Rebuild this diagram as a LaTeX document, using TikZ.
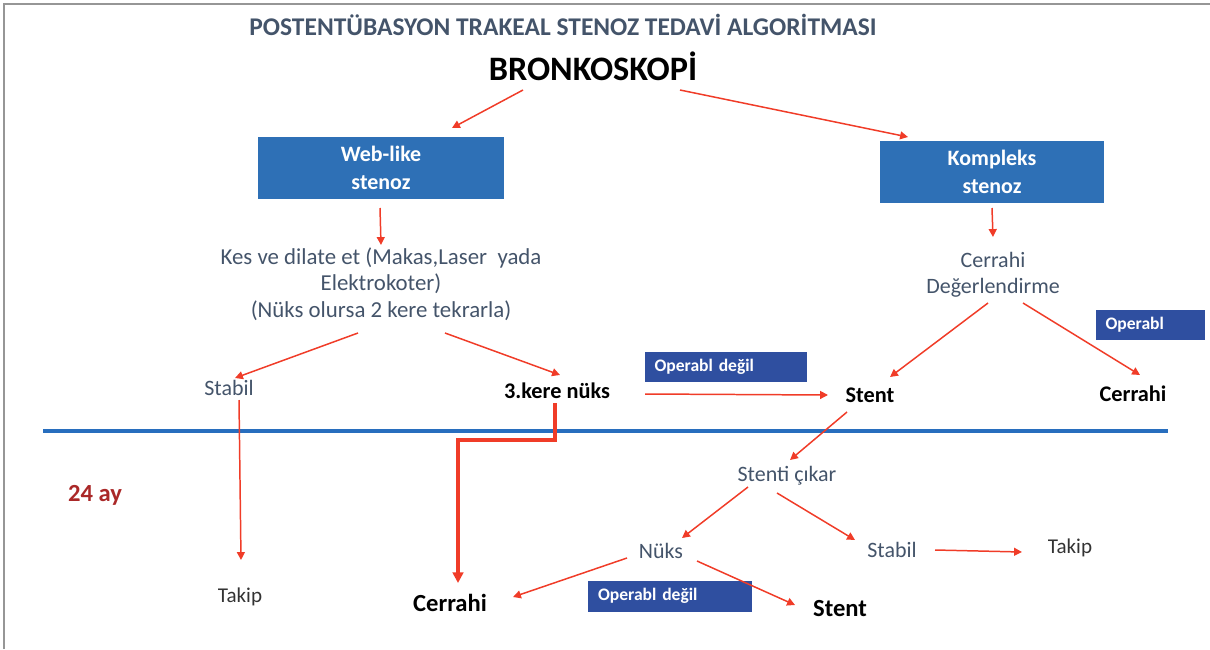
\documentclass[tikz,border=0pt]{standalone}
\usepackage{fontspec}
\setmainfont{Carlito}
\usetikzlibrary{arrows.meta}

\definecolor{boxblue}{RGB}{46,112,182}
\definecolor{tagblue}{RGB}{47,79,160}
\definecolor{slate}{RGB}{68,84,106}
\definecolor{arrred}{RGB}{240,60,40}
\definecolor{darkred}{RGB}{170,40,40}
\definecolor{framegray}{RGB}{150,150,150}
\definecolor{lineblue}{RGB}{40,110,190}

\tikzstyle{heading} = [
    inner sep=0pt,
    text=slate,
    font=\fontsize{14.5}{17}\selectfont\bfseries
]
\tikzstyle{bigheading} = [
    inner sep=0pt,
    text=black,
    font=\fontsize{19.5}{22}\selectfont\bfseries
]
\tikzstyle{bluebox} = [
    rectangle,
    fill=boxblue,
    text=white,
    align=center,
    font=\fontsize{12.5}{16}\selectfont\bfseries
]
\tikzstyle{tag} = [
    rectangle,
    fill=tagblue,
    text=white,
    inner xsep=0.2cm,
    align=left,
    font=\fontsize{10}{12}\selectfont\bfseries
]
\tikzstyle{graytxt} = [
    inner sep=0pt,
    text=slate,
    align=center,
    font=\fontsize{12.5}{15}\selectfont
]
\tikzstyle{boldtxt} = [
    inner sep=0pt,
    text=black,
    font=\fontsize{12.7}{15}\selectfont\bfseries
]
\tikzstyle{bigbold} = [
    inner sep=0pt,
    text=black,
    font=\fontsize{14}{16}\selectfont\bfseries
]
\tikzstyle{plaintxt} = [
    inner sep=0pt,
    text=black!80,
    font=\fontsize{12}{15}\selectfont
]
\tikzstyle{arrow} = [arrred, line width=0.85pt, -{Triangle[length=4.5pt, width=4.5pt]}]
\tikzstyle{thickarrow} = [arrred, line width=2.2pt, -{Triangle[length=6pt, width=6pt]}]

\begin{document}
\begin{tikzpicture}[x=0.02cm, y=-0.02cm]
\useasboundingbox (0,0) rectangle (1210,649);

% Frame and time divider
\draw [framegray, line width=1.7pt] (4,649) -- (4,4) -- (1210,4);
\draw [lineblue, line width=2.2pt] (43,431) -- (1168,431);

% Nodes
\node (title) [heading] at (563,25) {POSTENTÜBASYON TRAKEAL STENOZ TEDAVİ ALGORİTMASI};
\node (bronk) [bigheading] at (593,66) {BRONKOSKOPİ};
\node (web) [bluebox, minimum width=4.94cm, minimum height=1.26cm] at (381,168) {Web-like\\stenoz};
\node (komp) [bluebox, minimum width=4.5cm, minimum height=1.24cm] at (992,172) {Kompleks\\stenoz};
\node (kes) [graytxt, font=\fontsize{13}{15.2}\selectfont] at (381,284) {Kes ve dilate et (Makas,Laser\ \ yada\\Elektrokoter)\\(Nüks olursa 2 kere tekrarla)};
\node (cerrD) [graytxt] at (993,275) {Cerrahi\\Değerlendirme};
\node (stabilL) [graytxt] at (229,388) {Stabil};
\node (nuks3) [boldtxt] at (557,391) {3.kere nüks};
\node (tagA) [tag, text width=2.86cm, minimum height=0.6cm] at (726,367) {Operabl değil};
\node (stentA) [boldtxt] at (870,395) {Stent};
\node (tagOp) [tag, text width=1.78cm, minimum height=0.6cm] at (1150,325) {Operabl};
\node (cerrR) [boldtxt] at (1133,394) {Cerrahi};
\node (ay) [bigbold, text=darkred] at (95,495) {24 ay};
\node (takipL) [plaintxt] at (240,597) {Takip};
\node (cerrB) [bigbold] at (450,603) {Cerrahi};
\node (stenti) [graytxt] at (787,476) {Stenti çıkar};
\node (nuks) [graytxt] at (661,551) {Nüks};
\node (stabilR) [graytxt] at (892,550) {Stabil};
\node (takipR) [plaintxt] at (1070,548) {Takip};
\node (tagB) [tag, text width=2.88cm, minimum height=0.62cm] at (670,596) {Operabl değil};
\node (stentB) [bigbold] at (840,609) {Stent};

% Arrows
\draw [arrow] ([shift={(-70,24)}]bronk.center) -- ([shift={(71,-40)}]web.center);
\draw [arrow] ([shift={(87,24)}]bronk.center) -- ([shift={(-84,-35)}]komp.center);
\draw [arrow] ([shift={(-1,40)}]web.center) -- ([shift={(0,-39)}]kes.center);
\draw [arrow] ([shift={(0,36)}]komp.center) -- ([shift={(0,-38)}]cerrD.center);
\draw [arrow] ([shift={(-23,49)}]kes.center) -- ([shift={(6,-10)}]stabilL.center);
\draw [arrow] ([shift={(64,49)}]kes.center) -- ([shift={(3,-16)}]nuks3.center);
\draw [arrow] ([shift={(88,3)}]nuks3.center) -- ([shift={(-42,0)}]stentA.center);
\draw [arrow] ([shift={(-5,28)}]cerrD.center) -- ([shift={(20,-18)}]stentA.center);
\draw [arrow] ([shift={(30,28)}]cerrD.center) -- ([shift={(7,-19)}]cerrR.center);
\draw [arrow] ([shift={(10,12)}]stabilL.center) -- ([shift={(1,-37)}]takipL.center);
\draw [thickarrow] ([shift={(-2,12)}]nuks3.center) -- ++(0,37) -| ([shift={(8,-20)}]cerrB.center);
\draw [arrow] ([shift={(-23,17)}]stentA.center) -- ([shift={(3,-16)}]stenti.center);
\draw [arrow] ([shift={(-39,11)}]stenti.center) -- ([shift={(21,-13)}]nuks.center);
\draw [arrow] ([shift={(-10,17)}]stenti.center) -- ([shift={(-37,-10)}]stabilR.center);
\draw [arrow] ([shift={(43,0)}]stabilR.center) -- ([shift={(-48,4)}]takipR.center);
\draw [arrow] ([shift={(-34,7)}]nuks.center) -- ([shift={(63,-6)}]cerrB.center);
\draw [arrow] ([shift={(36,10)}]nuks.center) -- ([shift={(-45,-4)}]stentB.center);

\end{tikzpicture}
\end{document}
